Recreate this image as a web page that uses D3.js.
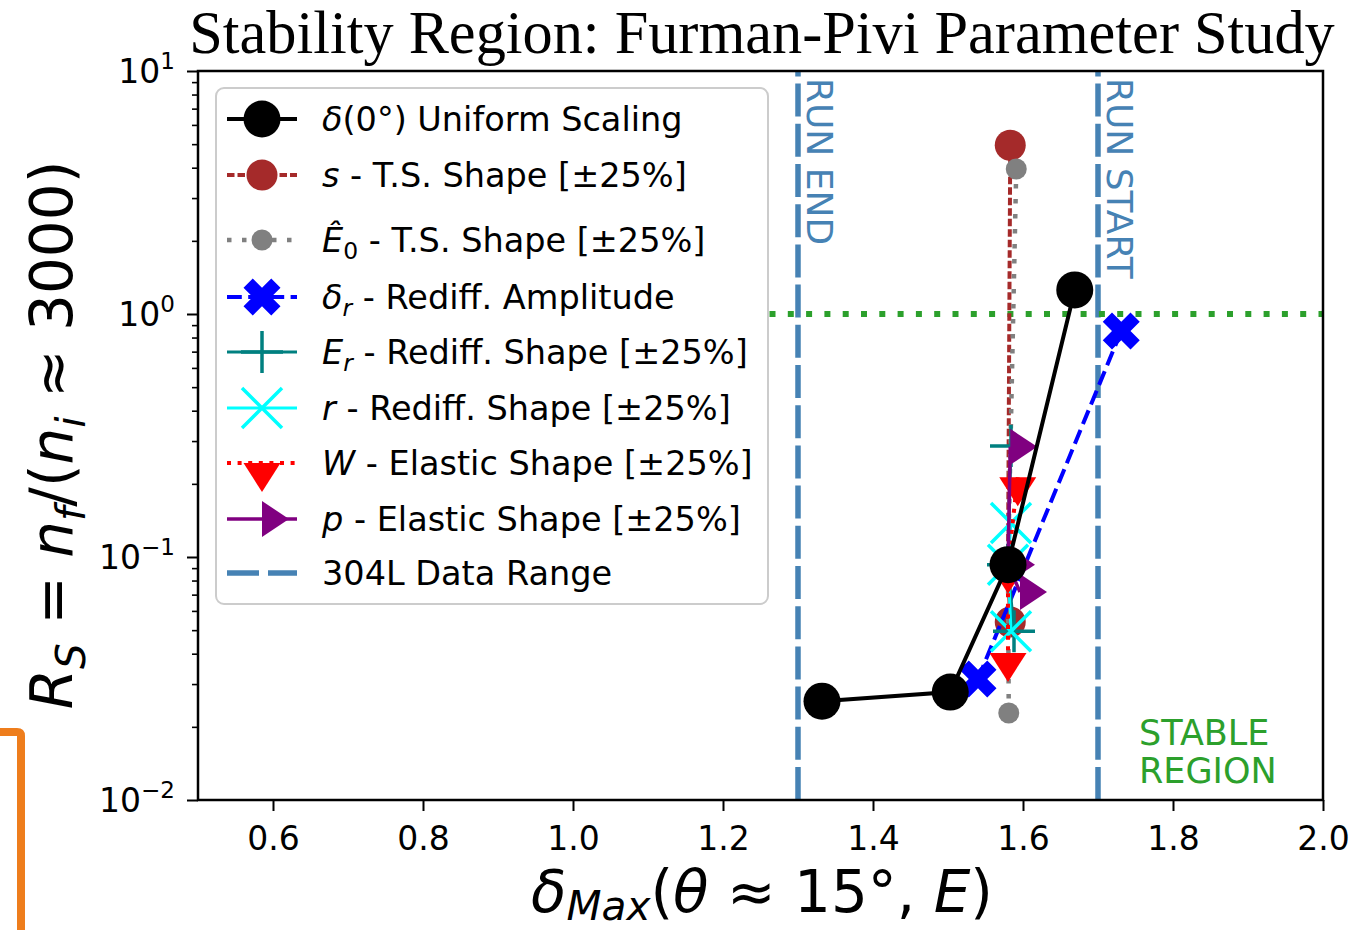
<!DOCTYPE html>
<html><head><meta charset="utf-8">
<script src="https://cdn.jsdelivr.net/npm/d3@7"></script>
<style>body{margin:0;background:#fff;} svg{display:block;font-family:'DejaVu Sans',sans-serif;}</style>
</head><body><svg id="c" width="1355" height="930"></svg>
<script>
// ---------- data ----------
const uniformX = [1.332, 1.503, 1.580, 1.669];
const uniformY = [0.0255, 0.0278, 0.093, 1.256];
const sX = [1.583, 1.580, 1.583];
const sY = [4.95, 0.093, 0.054];
const e0X = [1.591, 1.580, 1.581];
const e0Y = [3.95, 0.093, 0.0228];
const drX = [1.540, 1.731];
const drY = [0.0315, 0.851];
const erX = [1.584, 1.580, 1.588];
const erY = [0.286, 0.093, 0.0495];
const rX = [1.584, 1.580, 1.584];
const rY = [0.138, 0.093, 0.0495];
const wX = [1.593, 1.580, 1.580];
const wY = [0.213, 0.093, 0.0403];
const pX = [1.583, 1.580, 1.596];
const pY = [0.284, 0.093, 0.0718];
const runLinesX = [1.3, 1.7];
const runLabels = ["RUN END", "RUN START"];
const stableY = 1.0;
const stableXStart = 1.262;
const xTicks = [0.6, 0.8, 1.0, 1.2, 1.4, 1.6, 1.8, 2.0];
const yMajor = [0.01, 0.1, 1, 10];
const yExp = ["−2", "−1", "0", "1"];
const legendLabels = [
  [{t:"δ",i:1},{t:"(0°) Uniform Scaling"}],
  [{t:"s",i:1},{t:" - T.S. Shape [±25%]"}],
  [{t:"Ê",i:1},{t:"0",sub:1},{t:" - T.S. Shape [±25%]"}],
  [{t:"δ",i:1},{t:"r",i:1,sub:1},{t:" - Rediff. Amplitude"}],
  [{t:"E",i:1},{t:"r",i:1,sub:1},{t:" - Rediff. Shape [±25%]"}],
  [{t:"r",i:1},{t:" - Rediff. Shape [±25%]"}],
  [{t:"W",i:1},{t:" - Elastic Shape [±25%]"}],
  [{t:"p",i:1},{t:" - Elastic Shape [±25%]"}],
  [{t:"304L Data Range"}]
];

// ---------- layout ----------
const L = 198, R = 1323, T = 71, B = 800;
const svg = d3.select("#c");
const x = d3.scaleLinear().domain([0.5, 2.0]).range([L, R]);
const y = d3.scaleLog().domain([0.01, 10]).range([B, T]);
const zip = (a, b) => a.map((v, i) => [v, b[i]]);

// orange decoration at bottom left
svg.append("path").attr("d", "M0,732 H17 Q21,732 21,736 V930")
  .attr("fill", "none").attr("stroke", "#ee7d1c").attr("stroke-width", 8);

// title
svg.append("text").attr("x", 762).attr("y", 53).attr("text-anchor", "middle")
  .style("font-family", "'Liberation Serif', serif").style("font-size", "60.3px")
  .text("Stability Region: Furman-Pivi Parameter Study");

// reference lines
const plot = svg.append("g");
runLinesX.forEach((v, i) => {
  plot.append("line").attr("x1", x(v)).attr("x2", x(v)).attr("y1", B).attr("y2", T)
    .attr("stroke", "#4682b4").attr("stroke-width", 5.5).attr("stroke-dasharray", "33,7.2");
  plot.append("text").attr("transform", `translate(${x(v) + 9},78) rotate(90)`)
    .style("font-size", "36px").attr("fill", "#4682b4").text(runLabels[i]);
});
plot.append("line").attr("x1", x(stableXStart)).attr("x2", R).attr("y1", y(stableY)).attr("y2", y(stableY))
  .attr("stroke", "#2ca02c").attr("stroke-width", 6).attr("stroke-dasharray", "6,12.3");
const st = plot.append("text").style("font-size", "35px").attr("fill", "#2ca02c");
st.append("tspan").attr("x", 1139).attr("y", 745).text("STABLE");
st.append("tspan").attr("x", 1139).attr("y", 783).text("REGION");

// marker drawers
function drawMarker(g, type, cx, cy, color) {
  if (type === "circleL") g.append("circle").attr("cx", cx).attr("cy", cy).attr("r", 18.5).attr("fill", color);
  else if (type === "circleM") g.append("circle").attr("cx", cx).attr("cy", cy).attr("r", 15.5).attr("fill", color);
  else if (type === "circleS") g.append("circle").attr("cx", cx).attr("cy", cy).attr("r", 10.5).attr("fill", color);
  else if (type === "Xf") {
    const S = 37;
    const pts = [[0.25,0],[0.5,0.25],[0.75,0],[1,0.25],[0.75,0.5],[1,0.75],[0.75,1],[0.5,0.75],[0.25,1],[0,0.75],[0.25,0.5],[0,0.25]]
      .map(p => [cx + (p[0] - 0.5) * S, cy + (p[1] - 0.5) * S]);
    g.append("polygon").attr("points", pts.map(p => p.join(",")).join(" ")).attr("fill", color);
  } else if (type === "plus") {
    const h = 21;
    g.append("path").attr("d", `M${cx - h},${cy}H${cx + h}M${cx},${cy - h}V${cy + h}`)
      .attr("stroke", color).attr("stroke-width", 3.5).attr("fill", "none");
  } else if (type === "x") {
    const h = 20;
    g.append("path").attr("d", `M${cx - h},${cy - h}L${cx + h},${cy + h}M${cx - h},${cy + h}L${cx + h},${cy - h}`)
      .attr("stroke", color).attr("stroke-width", 3.5).attr("fill", "none");
  } else if (type === "triDown") {
    g.append("path").attr("d", `M${cx - 18.5},${cy}L${cx + 18.5},${cy}L${cx},${cy + 29}Z`).attr("fill", color);
  } else if (type === "triRight") {
    g.append("path").attr("d", `M${cx},${cy - 18}L${cx},${cy + 18}L${cx + 27},${cy}Z`).attr("fill", color);
  }
}

const series = [
  {xs: sX, ys: sY, color: "#a52a2a", w: 4, dash: "7.5,3", m: "circleM"},
  {xs: e0X, ys: e0Y, color: "#808080", w: 4.5, dash: "4.5,10.5", m: "circleS"},
  {xs: drX, ys: drY, color: "#0000ff", w: 4, dash: "14.8,6.4", m: "Xf"},
  {xs: erX, ys: erY, color: "#008080", w: 3, dash: null, m: "plus"},
  {xs: rX, ys: rY, color: "#00ffff", w: 3, dash: null, m: "x"},
  {xs: wX, ys: wY, color: "#ff0000", w: 4, dash: "4,6.6", m: "triDown"},
  {xs: pX, ys: pY, color: "#800080", w: 3.5, dash: null, m: "triRight"},
  {xs: uniformX, ys: uniformY, color: "#000000", w: 4, dash: null, m: "circleL"}
];
const line = d3.line().x(d => x(d[0])).y(d => y(d[1]));
series.forEach(s => {
  const g = plot.append("g");
  g.append("path").attr("d", line(zip(s.xs, s.ys))).attr("fill", "none").attr("stroke", s.color)
    .attr("stroke-width", s.w).attr("stroke-dasharray", s.dash);
  s.xs.forEach((v, i) => drawMarker(g, s.m, x(v), y(s.ys[i]), s.color));
});

// axes
const fs = 33.5;
const xAxis = svg.append("g").attr("transform", `translate(0,${B})`)
  .call(d3.axisBottom(x).tickValues(xTicks).tickSize(11).tickFormat(d3.format(".1f")));
xAxis.select(".domain").remove();
xAxis.selectAll(".tick line").attr("stroke-width", 2);
xAxis.selectAll("text").attr("y", 50).attr("dy", null).style("font-size", "33px")
  .style("font-family", "'DejaVu Sans'").attr("fill", "#000");

const minor = [];
[-2, -1, 0].forEach(k => { for (let m = 2; m <= 9; m++) minor.push(m * Math.pow(10, k)); });
const yMin = svg.append("g").attr("transform", `translate(${L},0)`)
  .call(d3.axisLeft(y).tickValues(minor).tickSize(6).tickFormat(""));
yMin.select(".domain").remove();
yMin.selectAll(".tick line").attr("stroke-width", 1.6);
const yAx = svg.append("g").attr("transform", `translate(${L},0)`)
  .call(d3.axisLeft(y).tickValues(yMajor).tickSize(11).tickFormat(""));
yAx.select(".domain").remove();
yAx.selectAll(".tick line").attr("stroke-width", 2);
yMajor.forEach((v, i) => {
  const t = svg.append("text").attr("x", 175).attr("y", y(v) + 12).attr("text-anchor", "end").style("font-size", "33px");
  t.append("tspan").text("10");
  t.append("tspan").attr("dy", -14).style("font-size", "23px").text(yExp[i]);
});

// frame
svg.append("rect").attr("x", L).attr("y", T).attr("width", R - L).attr("height", B - T)
  .attr("fill", "none").attr("stroke", "#000").attr("stroke-width", 2.5);

// math text helper
function mathText(sel, parts, size, shift) {
  const sh = shift === undefined ? size * 0.22 : shift;
  let inSub = false;
  parts.forEach(p => {
    const ts = sel.append("tspan").text(p.t);
    if (p.i) ts.style("font-style", "italic");
    if (p.sub) {
      ts.style("font-size", (size * 0.7) + "px");
      if (!inSub) ts.attr("dy", sh);
      inSub = true;
    } else {
      if (inSub) ts.attr("dy", -sh);
      inSub = false;
    }
  });
}

// axis labels
const xl = svg.append("text").attr("x", 762).attr("y", 912).attr("text-anchor", "middle").style("font-size", "58px");
mathText(xl, [{t:"δ",i:1},{t:"Max",i:1,sub:1},{t:"("},{t:"θ",i:1},{t:" ≈ 15°, "},{t:"E",i:1},{t:")"}], 58, 8);
const yl = svg.append("text").attr("transform", "translate(72,435) rotate(-90)").attr("text-anchor", "middle").style("font-size", "58px");
mathText(yl, [{t:"R",i:1},{t:"S",i:1,sub:1},{t:" = "},{t:"n",i:1},{t:"f",i:1,sub:1},{t:"/("},{t:"n",i:1},{t:"i",i:1,sub:1},{t:" ≈ 3000)"}], 58);

// legend
const leg = svg.append("g");
leg.append("rect").attr("x", 216).attr("y", 88).attr("width", 552).attr("height", 516).attr("rx", 8)
  .attr("fill", "#fff").attr("fill-opacity", 0.8).attr("stroke", "#cccccc").attr("stroke-width", 2);
const rowY = [119, 175, 240, 297, 352, 408, 463, 519, 573];
const legSeries = [series[7], series[0], series[1], series[2], series[3], series[4], series[5], series[6],
  {color: "#4682b4", w: 5.5, dash: "32,9", m: null}];
legSeries.forEach((s, i) => {
  const yy = rowY[i];
  leg.append("line").attr("x1", 227).attr("x2", 297).attr("y1", yy).attr("y2", yy)
    .attr("stroke", s.color).attr("stroke-width", s.w).attr("stroke-dasharray", s.dash);
  if (s.m) drawMarker(leg, s.m, 262, yy, s.color);
  const t = leg.append("text").attr("x", 322).attr("y", yy + 12).style("font-size", fs + "px");
  mathText(t, legendLabels[i], fs);
});
</script></body></html>
